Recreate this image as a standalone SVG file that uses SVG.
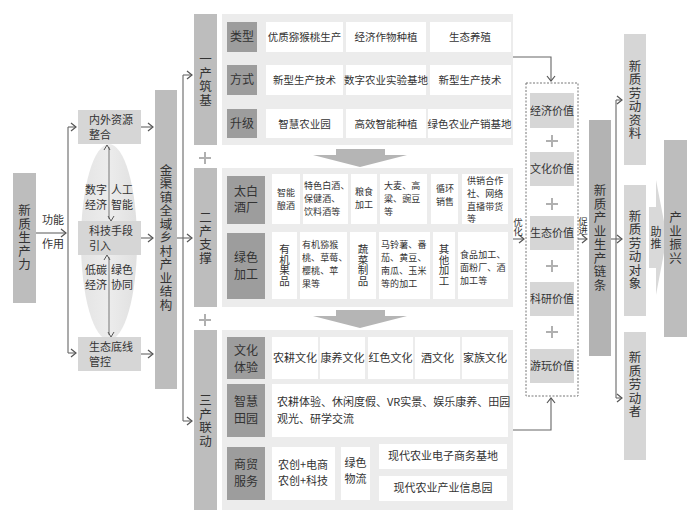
<svg xmlns="http://www.w3.org/2000/svg" width="699" height="521" viewBox="0 0 699 521">
<style>
text{font-family:"Noto Sans CJK SC","Noto Sans",sans-serif;fill:#333;font-size:11px}
.v{writing-mode:vertical-rl;text-anchor:middle;font-size:12.5px;letter-spacing:1px}
.c{text-anchor:middle}
.bar{fill:#bdbdbd}
.lb{fill:#d6d6d6}
.dk{fill:#9d9d9d}
.pn{fill:#ececec}
.w{fill:#fff}
.ln{stroke:#666;stroke-width:1.1;fill:none}
.lab{font-size:12px;text-anchor:middle}
.p1{font-size:10.5px;text-anchor:middle}
.p2{font-size:9px;letter-spacing:0.1px}
.pl{stroke:#b0b0b0;stroke-width:2;fill:none}
</style>
<defs>
<marker id="a" markerWidth="8" markerHeight="10" refX="6" refY="5" orient="auto" markerUnits="userSpaceOnUse"><path d="M1,1 L6,5 L1,9" fill="none" stroke="#555" stroke-width="1.2"/></marker>
<marker id="s" markerWidth="8" markerHeight="8" refX="4" refY="6" orient="auto-start-reverse" markerUnits="userSpaceOnUse"><path d="M1,1 L4,6 L7,1" fill="none" stroke="#555" stroke-width="1" transform="rotate(-90 4 4)"/></marker>
<linearGradient id="g" x1="0" x2="1"><stop offset="0" stop-color="#e4e4e4"/><stop offset="0.5" stop-color="#ececec"/><stop offset="1" stop-color="#e0e0e0"/></linearGradient>
</defs>
<rect width="699" height="521" fill="#fff"/>

<g id="connectors">
<path class="ln" d="M36,233 H66" marker-end="url(#a)"/>
<path class="ln" d="M68,127 V353"/>
<path class="ln" d="M68,127 H76" marker-end="url(#a)"/>
<path class="ln" d="M68,353 H76" marker-end="url(#a)"/>
<path class="ln" d="M141,127 H153" marker-end="url(#a)"/>
<path class="ln" d="M141,238 H153" marker-end="url(#a)"/>
<path class="ln" d="M141,354 H153" marker-end="url(#a)"/>
<path class="ln" d="M177,238 H192" marker-end="url(#a)"/>
<path class="ln" d="M183,75 V421"/>
<path class="ln" d="M183,75 H192" marker-end="url(#a)"/>
<path class="ln" d="M183,421 H192" marker-end="url(#a)"/>
<path class="ln" d="M513,57 H551 V81" marker-end="url(#a)"/>
<path class="ln" d="M513,430 H551 V398" marker-end="url(#a)"/>
<path class="ln" d="M513,239 H524" marker-end="url(#a)"/>
<path class="ln" d="M578,239 H587" marker-end="url(#a)"/>
<path class="ln" d="M611,239 H622" marker-end="url(#a)"/>
<path class="ln" d="M616,100 V398"/>
<path class="ln" d="M616,100 H622" marker-end="url(#a)"/>
<path class="ln" d="M616,398 H622" marker-end="url(#a)"/>
</g>

<g id="n-xzscl"><rect class="bar" x="13" y="173" width="23" height="130"/><text class="v" x="24.5" y="238">新质生产力</text></g>
<text class="c" x="53" y="224" font-size="11.5">功能</text>
<text class="c" x="53" y="248" font-size="11.5">作用</text>

<g id="ellipse"><ellipse cx="109" cy="242" rx="28" ry="98" fill="url(#g)"/>
<path d="M109,147 V219" stroke="#777" stroke-width="1" marker-start="url(#s)" marker-end="url(#s)"/>
<path d="M109,257 V335" stroke="#777" stroke-width="1" marker-start="url(#s)" marker-end="url(#s)"/>
<text class="c" x="96" y="194">数字</text><text class="c" x="96" y="209">经济</text>
<text class="c" x="122" y="194">人工</text><text class="c" x="122" y="209">智能</text>
<text class="c" x="96" y="274">低碳</text><text class="c" x="96" y="289">经济</text>
<text class="c" x="122" y="274">绿色</text><text class="c" x="122" y="289">协同</text>
</g>
<g id="n1"><rect class="lb" x="78" y="110" width="63" height="34"/><text x="89" y="124">内外资源</text><text x="89" y="139">整合</text></g>
<g id="n2"><rect class="lb" x="78" y="221" width="63" height="34"/><text x="89" y="235">科技手段</text><text x="89" y="250">引入</text></g>
<g id="n3"><rect class="lb" x="78" y="337" width="63" height="34"/><text x="89" y="351">生态底线</text><text x="89" y="366">管控</text></g>

<g id="n-jq"><rect class="bar" x="155" y="90" width="22" height="299"/><text class="v" x="166" y="238">金渠镇全域乡村产业结构</text></g>

<g id="bars">
<rect class="bar" x="194" y="14" width="23" height="131"/><text class="v" x="205.5" y="80">一产筑基</text>
<path class="pl" d="M205,152 V164 M199,158 H211"/>
<rect class="bar" x="194" y="168" width="23" height="139"/><text class="v" x="205.5" y="238">二产支撑</text>
<path class="pl" d="M205,314 V326 M199,320 H211"/>
<rect class="bar" x="194" y="330" width="23" height="180"/><text class="v" x="205.5" y="421">三产联动</text>
</g>

<g id="panel1">
<rect class="pn" x="222" y="14" width="291" height="131"/>
<rect class="dk" x="227" y="22" width="30" height="30"/><text class="lab" x="242" y="41">类型</text>
<rect class="dk" x="227" y="65" width="30" height="30"/><text class="lab" x="242" y="84">方式</text>
<rect class="dk" x="227" y="109" width="30" height="29"/><text class="lab" x="242" y="128">升级</text>
<rect class="w" x="266" y="22" width="77" height="30"/><text class="p1" x="304.5" y="41">优质猕猴桃生产</text>
<rect class="w" x="346" y="22" width="80" height="30"/><text class="p1" x="386" y="41">经济作物种植</text>
<rect class="w" x="430" y="22" width="81" height="30"/><text class="p1" x="470" y="41">生态养殖</text>
<rect class="w" x="266" y="65" width="77" height="30"/><text class="p1" x="304.5" y="84">新型生产技术</text>
<rect class="w" x="346" y="65" width="80" height="30"/><text class="p1" x="386" y="84">数字农业实验基地</text>
<rect class="w" x="430" y="65" width="81" height="30"/><text class="p1" x="470" y="84">新型生产技术</text>
<rect class="w" x="266" y="109" width="77" height="29"/><text class="p1" x="304.5" y="128">智慧农业园</text>
<rect class="w" x="346" y="109" width="80" height="29"/><text class="p1" x="386" y="128">高效智能种植</text>
<rect class="w" x="428" y="109" width="83" height="29"/><text class="p1" x="469.5" y="128">绿色农业产销基地</text>
</g>
<path d="M336,149 H385 V155 H407 L360,167 L313,155 H336 Z" fill="#b5b5b5"/>

<g id="panel2">
<rect class="pn" x="222" y="168" width="291" height="139"/>
<rect class="dk" x="227" y="176" width="38" height="48"/><text class="lab" x="246" y="196">太白</text><text class="lab" x="246" y="212">酒厂</text>
<rect class="dk" x="227" y="233" width="38" height="66"/><text class="lab" x="246" y="262">绿色</text><text class="lab" x="246" y="279">加工</text>
<rect class="w" x="272" y="174" width="28" height="50"/><text class="p2" x="277" y="196">智能</text><text class="p2" x="277" y="209">酿酒</text>
<rect class="w" x="303" y="174" width="45" height="50"/><text class="p2" x="304" y="189">特色白酒、</text><text class="p2" x="304" y="202">保健酒、</text><text class="p2" x="304" y="215">饮料酒等</text>
<rect class="w" x="351" y="174" width="26" height="50"/><text class="p2" x="355" y="195">粮食</text><text class="p2" x="355" y="208">加工</text>
<rect class="w" x="380" y="174" width="47" height="50"/><text class="p2" x="384" y="189">大麦、高</text><text class="p2" x="384" y="202">粱、豌豆</text><text class="p2" x="384" y="215">等</text>
<rect class="w" x="431" y="174" width="27" height="50"/><text class="p2" x="436" y="192">循环</text><text class="p2" x="436" y="205">销售</text>
<rect class="w" x="462" y="174" width="46" height="50"/><text class="p2" x="467" y="184">供销合作</text><text class="p2" x="467" y="197">社、网络</text><text class="p2" x="467" y="210">直播带货</text><text class="p2" x="467" y="222">等</text>
<rect class="w" x="272" y="232" width="25" height="67"/><text class="v" x="284.5" y="265" style="font-size:10.5px;letter-spacing:0">有机果品</text>
<rect class="w" x="300" y="232" width="47" height="67"/><text class="p2" x="302" y="248">有机猕猴</text><text class="p2" x="302" y="261">桃、草莓、</text><text class="p2" x="302" y="274">樱桃、苹</text><text class="p2" x="302" y="287">果等</text>
<rect class="w" x="350" y="232" width="26" height="67"/><text class="v" x="363" y="265" style="font-size:10.5px;letter-spacing:0">蔬菜制品</text>
<rect class="w" x="379" y="232" width="51" height="67"/><text class="p2" x="381" y="248">马铃薯、番</text><text class="p2" x="381" y="261">茄、黄豆、</text><text class="p2" x="381" y="274">南瓜、玉米</text><text class="p2" x="381" y="287">等的加工</text>
<rect class="w" x="433" y="232" width="22" height="67"/><text class="v" x="444" y="265" style="font-size:10.5px;letter-spacing:0">其他加工</text>
<rect class="w" x="458" y="232" width="50" height="67"/><text class="p2" x="460" y="258">食品加工、</text><text class="p2" x="460" y="271">面粉厂、酒</text><text class="p2" x="460" y="284">加工等</text>
</g>
<path d="M336,310 H385 V316 H407 L360,328 L313,316 H336 Z" fill="#b5b5b5"/>

<g id="panel3">
<rect class="pn" x="222" y="330" width="291" height="180"/>
<rect class="dk" x="227" y="337" width="38" height="42"/><text class="lab" x="246" y="355">文化</text><text class="lab" x="246" y="372">体验</text>
<rect class="dk" x="227" y="384" width="38" height="53"/><text class="lab" x="246" y="406">智慧</text><text class="lab" x="246" y="423">田园</text>
<rect class="dk" x="227" y="447" width="38" height="53"/><text class="lab" x="246" y="469">商贸</text><text class="lab" x="246" y="486">服务</text>
<rect class="w" x="272" y="337" width="46" height="42"/><text class="c" x="295" y="362">农耕文化</text>
<rect class="w" x="320" y="337" width="45" height="42"/><text class="c" x="342.5" y="362">康养文化</text>
<rect class="w" x="368" y="337" width="45" height="42"/><text class="c" x="390.5" y="362">红色文化</text>
<rect class="w" x="415" y="337" width="45" height="42"/><text class="c" x="437.5" y="362">酒文化</text>
<rect class="w" x="462" y="337" width="46" height="42"/><text class="c" x="485" y="362">家族文化</text>
<rect class="w" x="272" y="384" width="236" height="53"/><text x="277" y="406">农耕体验、休闲度假、VR实景、娱乐康养、田园</text><text x="277" y="423">观光、研学交流</text>
<rect class="w" x="272" y="447" width="63" height="53"/><text class="c" x="303" y="469">农创+电商</text><text class="c" x="303" y="485">农创+科技</text>
<rect class="w" x="341" y="447" width="29" height="53"/><text class="c" x="355.5" y="467">绿色</text><text class="c" x="355.5" y="483">物流</text>
<rect class="w" x="379" y="444" width="128" height="25"/><text class="c" x="443" y="460">现代农业电子商务基地</text>
<rect class="w" x="379" y="476" width="128" height="25"/><text class="c" x="443" y="492">现代农业产业信息园</text>
</g>

<text class="v" x="518" y="227" style="font-size:9.5px;letter-spacing:0">优化</text>
<text class="v" x="583" y="226" style="font-size:9.5px;letter-spacing:0">促进</text>

<g id="values">
<rect x="526" y="83" width="52" height="313" fill="none" stroke="#777" stroke-dasharray="2,1.5"/>
<rect class="lb" x="530" y="93" width="44" height="35"/><text class="c" x="552" y="115">经济价值</text>
<path class="pl" d="M552,135 V147 M546,141 H558"/>
<rect class="lb" x="530" y="152" width="44" height="34"/><text class="c" x="552" y="173">文化价值</text>
<path class="pl" d="M552,198 V210 M546,204 H558"/>
<rect class="lb" x="530" y="216" width="44" height="34"/><text class="c" x="552" y="237">生态价值</text>
<path class="pl" d="M552,260 V272 M546,266 H558"/>
<rect class="lb" x="530" y="282" width="44" height="34"/><text class="c" x="552" y="303">科研价值</text>
<path class="pl" d="M552,326 V338 M546,332 H558"/>
<rect class="lb" x="530" y="349" width="44" height="34"/><text class="c" x="552" y="370">游玩价值</text>
</g>

<g id="n-chain"><rect fill="#b3b3b3" x="589" y="120" width="22" height="236"/><text class="v" x="600" y="238">新质产业生产链条</text></g>
<g id="n-zl"><rect class="lb" x="624" y="34" width="22" height="131"/><text class="v" x="635" y="100">新质劳动资料</text></g>
<g id="n-dx"><rect class="lb" x="624" y="185" width="22" height="131"/><text class="v" x="635" y="250">新质劳动对象</text></g>
<g id="n-z"><rect class="lb" x="624" y="332" width="22" height="128"/><text class="v" x="635" y="385">新质劳动者</text></g>
<g id="push"><polygon points="649,207 656,207 656,180 667,237 656,295 656,268 649,268" fill="#d9d9d9"/><text class="v" x="656" y="238" style="font-size:11px">助推</text></g>
<g id="n-zx"><rect class="bar" x="664" y="140" width="23" height="197"/><text class="v" x="675.5" y="238">产业振兴</text></g>
</svg>
